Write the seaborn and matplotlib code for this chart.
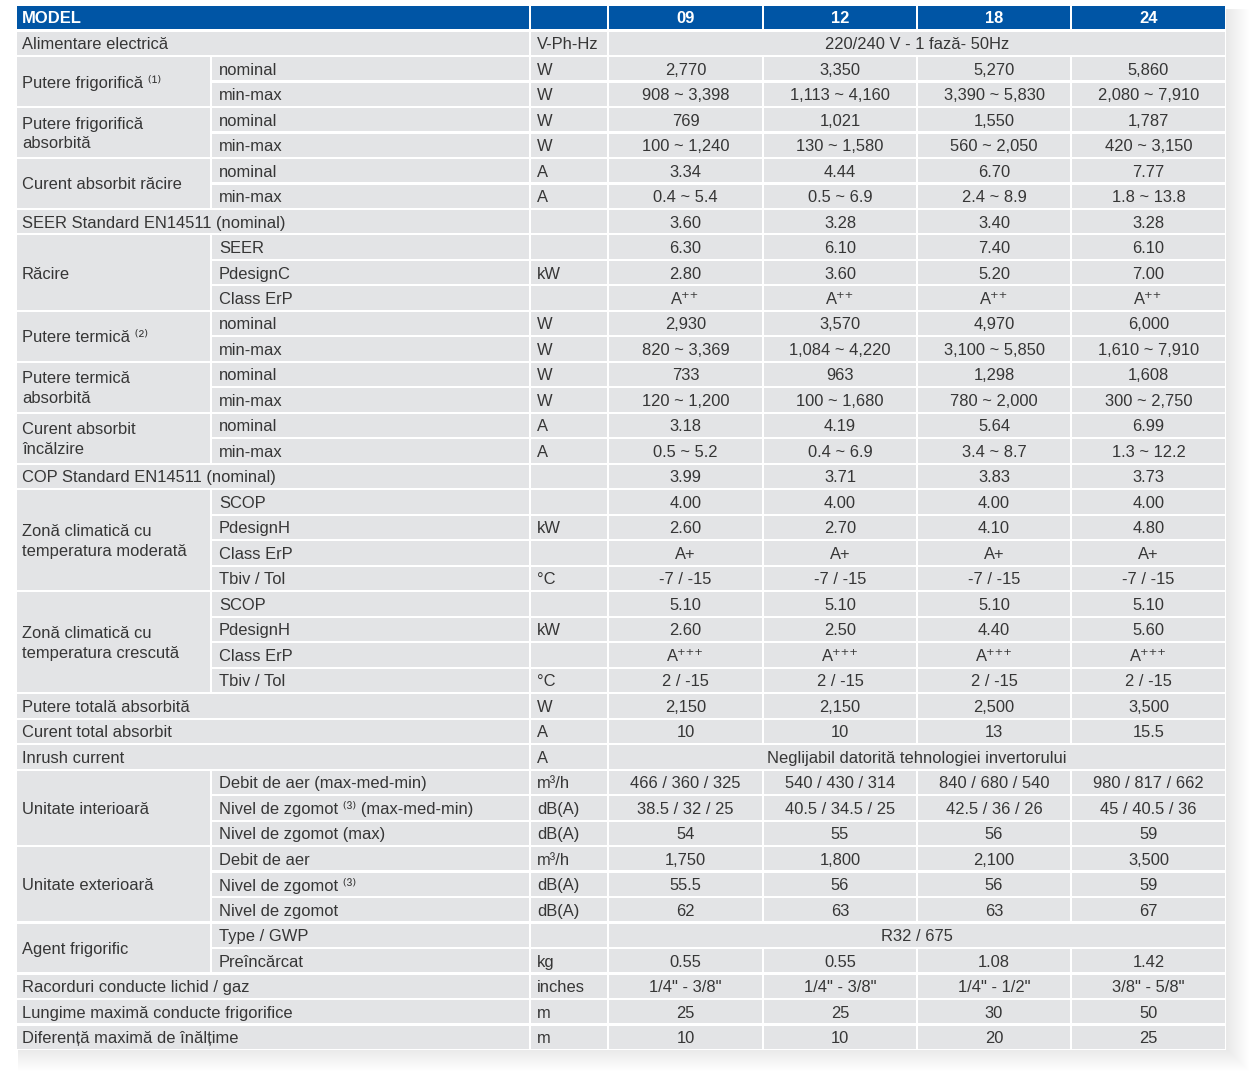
import matplotlib
matplotlib.use("Agg")
import matplotlib.pyplot as plt
from matplotlib.patches import Rectangle
import seaborn as sns

sns.set_theme(style="white")
plt.rcParams['font.family'] = ['Liberation Sans', 'DejaVu Sans']

# ---------------- data ----------------
models = ["09", "12", "18", "24"]

# (group label, number of rows, spans label+sub-label columns)
groups = [
    ("Alimentare electrică", 1, True),
    ("Putere frigorifică ⁽¹⁾", 2, False),
    ("Putere frigorifică\nabsorbită", 2, False),
    ("Curent absorbit răcire", 2, False),
    ("SEER Standard EN14511 (nominal)", 1, True),
    ("Răcire", 3, False),
    ("Putere termică ⁽²⁾", 2, False),
    ("Putere termică\nabsorbită", 2, False),
    ("Curent absorbit\nîncălzire", 2, False),
    ("COP Standard EN14511 (nominal)", 1, True),
    ("Zonă climatică cu\ntemperatura moderată", 4, False),
    ("Zonă climatică cu\ntemperatura crescută", 4, False),
    ("Putere totală absorbită", 1, True),
    ("Curent total absorbit", 1, True),
    ("Inrush current", 1, True),
    ("Unitate interioară", 3, False),
    ("Unitate exterioară", 3, False),
    ("Agent frigorific", 2, False),
    ("Racorduri conducte lichid / gaz", 1, True),
    ("Lungime maximă conducte frigorifice", 1, True),
    ("Diferență maximă de înălțime", 1, True),
]

sub_labels = [
    "", "nominal", "min-max", "nominal", "min-max", "nominal", "min-max", "",
    "SEER", "PdesignC", "Class ErP", "nominal", "min-max", "nominal", "min-max",
    "nominal", "min-max", "", "SCOP", "PdesignH", "Class ErP", "Tbiv / Tol",
    "SCOP", "PdesignH", "Class ErP", "Tbiv / Tol", "", "", "",
    "Debit de aer (max-med-min)", "Nivel de zgomot ⁽³⁾ (max-med-min)",
    "Nivel de zgomot (max)", "Debit de aer", "Nivel de zgomot ⁽³⁾",
    "Nivel de zgomot", "Type / GWP", "Preîncărcat", "", "", "",
]

units = [
    "V-Ph-Hz", "W", "W", "W", "W", "A", "A", "", "", "kW", "", "W", "W", "W",
    "W", "A", "A", "", "", "kW", "", "°C", "", "kW", "", "°C", "W", "A", "A",
    "m³/h", "dB(A)", "dB(A)", "m³/h", "dB(A)", "dB(A)", "", "kg", "inches",
    "m", "m",
]

# rows whose value spans all four model columns
merged_values = {
    0: "220/240 V - 1 fază- 50Hz",
    28: "Neglijabil datorită tehnologiei invertorului",
    35: "R32 / 675",
}

v09 = ["", "2,770", "908 ~ 3,398", "769", "100 ~ 1,240", "3.34", "0.4 ~ 5.4",
       "3.60", "6.30", "2.80", "A⁺⁺", "2,930", "820 ~ 3,369", "733",
       "120 ~ 1,200", "3.18", "0.5 ~ 5.2", "3.99", "4.00", "2.60", "A+",
       "-7 / -15", "5.10", "2.60", "A⁺⁺⁺", "2 / -15", "2,150", "10", "",
       "466 / 360 / 325", "38.5 / 32 / 25", "54", "1,750", "55.5", "62", "",
       "0.55", "1/4\" - 3/8\"", "25", "10"]
v12 = ["", "3,350", "1,113 ~ 4,160", "1,021", "130 ~ 1,580", "4.44",
       "0.5 ~ 6.9", "3.28", "6.10", "3.60", "A⁺⁺", "3,570", "1,084 ~ 4,220",
       "963", "100 ~ 1,680", "4.19", "0.4 ~ 6.9", "3.71", "4.00", "2.70", "A+",
       "-7 / -15", "5.10", "2.50", "A⁺⁺⁺", "2 / -15", "2,150", "10", "",
       "540 / 430 / 314", "40.5 / 34.5 / 25", "55", "1,800", "56", "63", "",
       "0.55", "1/4\" - 3/8\"", "25", "10"]
v18 = ["", "5,270", "3,390 ~ 5,830", "1,550", "560 ~ 2,050", "6.70",
       "2.4 ~ 8.9", "3.40", "7.40", "5.20", "A⁺⁺", "4,970", "3,100 ~ 5,850",
       "1,298", "780 ~ 2,000", "5.64", "3.4 ~ 8.7", "3.83", "4.00", "4.10",
       "A+", "-7 / -15", "5.10", "4.40", "A⁺⁺⁺", "2 / -15", "2,500", "13", "",
       "840 / 680 / 540", "42.5 / 36 / 26", "56", "2,100", "56", "63", "",
       "1.08", "1/4\" - 1/2\"", "30", "20"]
v24 = ["", "5,860", "2,080 ~ 7,910", "1,787", "420 ~ 3,150", "7.77",
       "1.8 ~ 13.8", "3.28", "6.10", "7.00", "A⁺⁺", "6,000", "1,610 ~ 7,910",
       "1,608", "300 ~ 2,750", "6.99", "1.3 ~ 12.2", "3.73", "4.00", "4.80",
       "A+", "-7 / -15", "5.10", "5.60", "A⁺⁺⁺", "2 / -15", "3,500", "15.5", "",
       "980 / 817 / 662", "45 / 40.5 / 36", "59", "3,500", "59", "67", "",
       "1.42", "3/8\" - 5/8\"", "50", "25"]
values = [v09, v12, v18, v24]

# ---------------- layout ----------------
W, H = 1250, 1073
TOP, BOTTOM = 5.0, 1050.0
n_rows = len(units) + 1
PITCH = (BOTTOM - TOP) / n_rows
GAP = 2.2
x_edges = [16, 211, 530, 608, 763, 917, 1071, 1226]  # col boundaries
GRAY = "#e3e4e6"
BLUE = "#0055a5"
TXT = "#363636"
FS = 11.9
DY = 1.4

fig = plt.figure(figsize=(W / 100, H / 100), dpi=100)
ax = fig.add_axes([0, 0, 1, 1])
ax.set_xlim(0, W)
ax.set_ylim(H, 0)
ax.axis("off")
fig.patch.set_facecolor("white")

# soft shadow
for i in range(22):
    ax.add_patch(Rectangle((x_edges[0] + 2, TOP + 4), x_edges[-1] - x_edges[0] + i,
                           BOTTOM - TOP - 4 + i, facecolor="black",
                           edgecolor="none", alpha=0.0045, zorder=0))
ax.add_patch(Rectangle((x_edges[0], TOP), x_edges[-1] - x_edges[0], BOTTOM - TOP,
                       facecolor="white", edgecolor="none", zorder=0.5))


def row_top(r):
    return TOP + r * PITCH


def cell(c0, c1, r0, r1, color):
    x0 = x_edges[c0] + GAP / 2
    x1 = x_edges[c1] - GAP / 2
    y0 = row_top(r0) + GAP / 2
    y1 = row_top(r1) - GAP / 2
    ax.add_patch(Rectangle((x0, y0), x1 - x0, y1 - y0, facecolor=color,
                           edgecolor="none", zorder=1))


def ymid(r0, r1):
    return (row_top(r0) + row_top(r1)) / 2 + DY


# header
cell(0, 2, 0, 1, BLUE)
cell(2, 3, 0, 1, BLUE)
for j, m in enumerate(models):
    cell(3 + j, 4 + j, 0, 1, BLUE)
    ax.text((x_edges[3 + j] + x_edges[4 + j]) / 2, ymid(0, 1) - 0.6, m,
            color="white", fontsize=FS, fontweight="bold", ha="center",
            va="center", zorder=3)
ax.text(x_edges[0] + 6, ymid(0, 1) - 0.6, "MODEL", color="white", fontsize=FS,
        fontweight="bold", ha="left", va="center", zorder=3)

# body
r = 1
for label, n, full in groups:
    if full:
        cell(0, 2, r, r + n, GRAY)
    else:
        cell(0, 1, r, r + n, GRAY)
        for k in range(n):
            cell(1, 2, r + k, r + k + 1, GRAY)
            ax.text(x_edges[1] + 8, ymid(r + k, r + k + 1), sub_labels[r + k - 1],
                    color=TXT, fontsize=FS, ha="left", va="center", zorder=3)
    ax.text(x_edges[0] + 6, ymid(r, r + n), label, color=TXT, fontsize=FS,
            ha="left", va="center", linespacing=1.38, zorder=3)
    r += n

for i in range(len(units)):
    rr = i + 1
    cell(2, 3, rr, rr + 1, GRAY)
    ax.text(x_edges[2] + 7, ymid(rr, rr + 1), units[i], color=TXT, fontsize=FS,
            ha="left", va="center", zorder=3)
    if i in merged_values:
        cell(3, 7, rr, rr + 1, GRAY)
        ax.text((x_edges[3] + x_edges[7]) / 2, ymid(rr, rr + 1), merged_values[i],
                color=TXT, fontsize=FS, ha="center", va="center", zorder=3)
    else:
        for j in range(4):
            cell(3 + j, 4 + j, rr, rr + 1, GRAY)
            ax.text((x_edges[3 + j] + x_edges[4 + j]) / 2, ymid(rr, rr + 1),
                    values[j][i], color=TXT, fontsize=FS, ha="center",
                    va="center", zorder=3)

fig.savefig("out.png", dpi=100, facecolor="white")
